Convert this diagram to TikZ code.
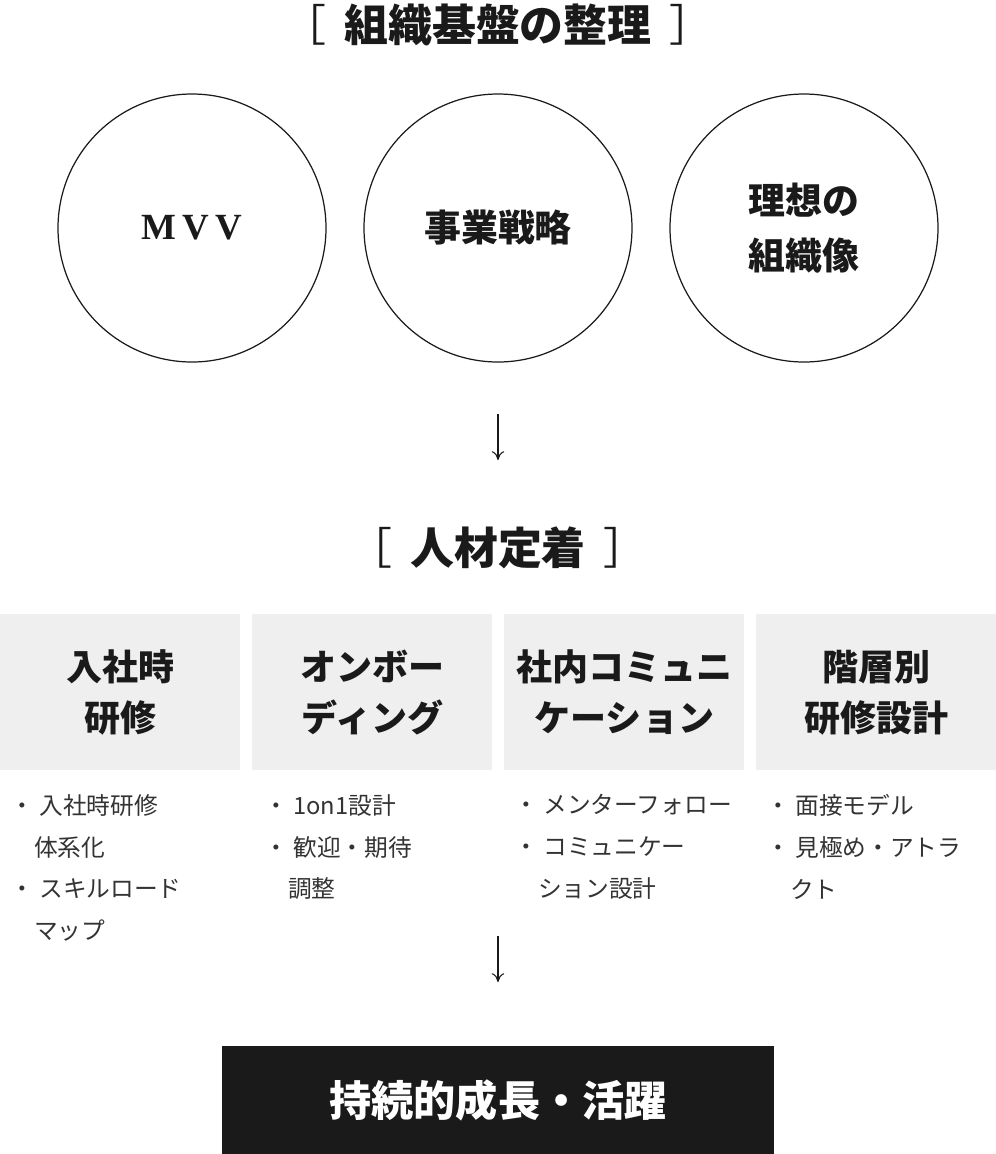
\documentclass[tikz,border=0pt]{standalone}
\usepackage{fontspec}
\setmainfont{Noto Sans CJK JP}
\usetikzlibrary{positioning,arrows.meta}
\definecolor{boxgray}{HTML}{EFEFEF}
\definecolor{inkblack}{HTML}{1A1A1A}
\definecolor{textgray}{HTML}{333333}
\tikzset{
	heading/.style={font=\fontsize{25}{30}\selectfont\bfseries, text=inkblack},
	pillar/.style={draw=inkblack, line width=0.7pt, circle, minimum size=268*0.02cm, align=center,
		font=\fontsize{21}{31}\selectfont\bfseries, text=inkblack},
	theme/.style={fill=boxgray, minimum width=240*0.02cm, minimum height=156*0.02cm, anchor=north west,
		align=center, font=\fontsize{20.5}{29}\selectfont\bfseries, text=inkblack},
	itemlist/.style={anchor=north west, align=left, font=\fontsize{13.5}{23.8}\selectfont, text=textgray, inner sep=0pt},
	flow/.style={-{To[length=5pt,width=7pt]}, line width=0.6pt, inkblack},
}
\begin{document}
\begin{tikzpicture}[x=0.02cm,y=-0.02cm]
	\useasboundingbox (0,0) rectangle (996,1154);
	% organisation base
	\node[heading] (base) at (498,25) {{\mdseries［}\hspace{10pt}組織基盤の整理\hspace{10pt}{\mdseries］}};
	\node[pillar] (mvv) at (192,228) {\fontspec{Liberation Serif}\bfseries M\,V\,V};
	\node[pillar] (strategy) at (498,228) {事業戦略};
	\node[pillar] (ideal) at (804,228) {理想の\\組織像};
	
	% arrow to retention
	\coordinate (a1) at (498,414);
	\coordinate (a2) at (498,460);
	\draw[flow] (a1) -- (a2);
	
	\node[heading] (retention) at (498,548) {{\mdseries［}\hspace{10pt}人材定着\hspace{10pt}{\mdseries］}};
	
	% four themes
	\node[theme] (t1) at (0,614) {入社時\\研修};
	\node[theme] (t2) at (252,614) {オンボー\\ディング};
	\node[theme] (t3) at (504,614) {社内コミュニ\\ケーション};
	\node[theme] (t4) at (756,614) {階層別\\研修設計};
	
	% items
	\node[itemlist] (l1) at (10,794) {・ 入社時研修\\\quad 体系化\\・ スキルロード\\\quad マップ};
	\node[itemlist] (l2) at (264,794) {・ 1on1設計\\・ 歓迎・期待\\\quad 調整};
	\node[itemlist] (l3) at (514,794) {・ メンターフォロー\\・ コミュニケー\\\quad ション設計};
	\node[itemlist] (l4) at (766,794) {・ 面接モデル\\・ 見極め・アトラ\\\quad クト};
	
	% arrow to result
	\coordinate (b1) at (498,936);
	\coordinate (b2) at (498,982);
	\draw[flow] (b1) -- (b2);
	
	\node[fill=inkblack, text=white, minimum width=552*0.02cm, minimum height=108*0.02cm,
		font=\fontsize{24}{28}\selectfont\bfseries] (growth) at (498,1100) {持続的成長・活躍};
\end{tikzpicture}
\end{document}
